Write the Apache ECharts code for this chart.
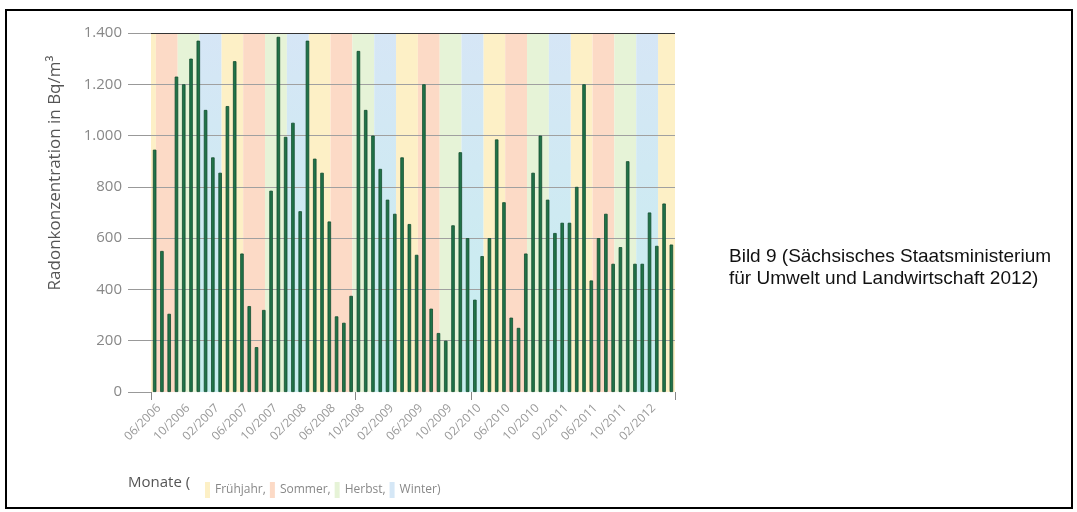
<!DOCTYPE html>
<html>
<head>
<meta charset="utf-8">
<script src="https://cdn.jsdelivr.net/npm/echarts@6/dist/echarts.min.js"></script>
<style>
  html, body { margin: 0; padding: 0; background: #fff; }
  #chart { width: 1077px; height: 512px; }
</style>
</head>
<body>
<div id="chart"></div>
<script>
// Monatsmittel Radonkonzentration, 06/2006 bis 05/2012
const startYear = 2006, startMonth = 6;
const radon = [945, 550, 305, 1230, 1200, 1300, 1370, 1100, 915, 855,
  1115, 1290, 540, 335, 175, 320, 785, 1385, 995, 1050,
  705, 1370, 910, 855, 665, 295, 270, 375, 1330, 1100,
  1000, 870, 750, 695, 915, 655, 535, 1200, 325, 230,
  200, 650, 935, 600, 360, 530, 600, 985, 740, 290,
  250, 540, 855, 1000, 750, 620, 660, 660, 800, 1200,
  435, 600, 695, 500, 565, 900, 500, 500, 700, 570,
  735, 575];
const yTicks = [0, 200, 400, 600, 800, 1000, 1200, 1400];
// Jahreszeiten: Fruehjahr ab ~21.03., Sommer ab ~21.06. usw.
const seasonNames = ['Frühjahr', 'Sommer', 'Herbst', 'Winter'];
const seasonColors = ['#fdf0c6', '#fcdac6', '#e6f3d7', '#d5e7f6'];
const firstSeasonStart = -2.33; // Fruehjahr 2006, in Monaten ab 06/2006
const axisTickIdx = [0, 28, 44, 72];

// Monatsbeschriftung mm/jjjj
const months = radon.map((v, i) => {
  const m = (startMonth - 1 + i) % 12 + 1;
  const y = startYear + Math.floor((startMonth - 1 + i) / 12);
  return (m < 10 ? '0' : '') + m + '/' + y;
});

const n = radon.length;
const bands = [[], [], [], []];
for (let s = firstSeasonStart, k = 0; s < n; s += 3, k++) {
  const a = Math.max(0, s), b = Math.min(n, s + 3);
  if (b > a) bands[k % 4].push([{ xAxis: a }, { xAxis: b }]);
}

function fmt(v) {
  return String(v).replace(/\B(?=(\d{3})+(?!\d))/g, '.');
}

const seasonSeries = seasonNames.map((name, i) => ({
  name: name,
  type: 'line',
  xAxisIndex: 1,
  data: [],
  z: 1,
  itemStyle: { color: seasonColors[i] },
  lineStyle: { color: seasonColors[i] },
  markArea: {
    silent: true,
    itemStyle: {
      color: name === 'Winter'
        ? { type: 'linear', x: 0, y: 0, x2: 0, y2: 1,
            colorStops: [{ offset: 0, color: '#d6e6f6' }, { offset: 1, color: '#c6eeee' }] }
        : seasonColors[i]
    },
    data: bands[i]
  }
}));

const chart = echarts.init(document.getElementById('chart'));
chart.setOption({
  animation: false,
  textStyle: { fontFamily: 'Open Sans' },
  grid: { left: 151, right: 402, top: 33, bottom: 120 },
  legend: {
    data: seasonNames,
    left: 200, top: 477,
    icon: 'rect', itemWidth: 5, itemHeight: 16, itemGap: 4,
    selectedMode: false,
    textStyle: { color: '#888', fontSize: 12, fontFamily: 'Open Sans' },
    formatter: name => name + (name === 'Winter' ? ')' : ',')
  },
  xAxis: [{
    type: 'category',
    data: months,
    boundaryGap: true,
    axisLine: { show: false },
    axisTick: {
      show: true, length: 8,
      interval: idx => axisTickIdx.indexOf(idx) >= 0,
      lineStyle: { color: '#888' }
    },
    axisLabel: {
      interval: idx => idx % 4 === 0,
      rotate: 45, margin: 10, verticalAlign: 'top',
      color: '#999', fontSize: 12
    }
  }, {
    type: 'value', min: 0, max: n, show: false
  }],
  yAxis: {
    type: 'value',
    min: 0, max: 1400, interval: 200,
    z: 1.5,
    axisLine: { show: false },
    axisTick: { show: true, inside: false, length: 23, lineStyle: { color: '#999' } },
    axisLabel: { margin: 29, color: '#888', fontSize: 15, formatter: v => fmt(v) },
    splitLine: {
      lineStyle: {
        color: yTicks.map(t => t === 0 ? 'rgba(0,0,0,0)' : (t === 1400 ? '#333' : '#a0a0a0')),
        width: 1
      }
    }
  },
  graphic: [
    { type: 'rect', shape: { x: 6, y: 10, width: 1066, height: 498 },
      style: { fill: 'none', stroke: '#000', lineWidth: 2 }, silent: true },
    { type: 'text', x: 55, y: 173, rotation: Math.PI / 2,
      style: { text: 'Radonkonzentration in Bq/m³', fill: '#555', font: '17px "Open Sans"',
               textAlign: 'center', textVerticalAlign: 'middle' } },
    { type: 'text', left: 128, top: 475,
      style: { text: 'Monate (', fill: '#555', font: '15px "Open Sans"' } },
    { type: 'text', left: 729, top: 246,
      style: { text: 'Bild 9 (Sächsisches Staatsministerium\nfür Umwelt und Landwirtschaft 2012)',
               fill: '#111', font: '19px "Liberation Sans"', lineHeight: 22 } }
  ],
  series: seasonSeries.concat([{
    name: 'Radon',
    type: 'bar',
    data: radon,
    barWidth: 3.5,
    z: 3,
    itemStyle: { color: '#217349', borderColor: '#114d2e', borderWidth: 0.8 }
  }])
});
</script>
</body>
</html>
